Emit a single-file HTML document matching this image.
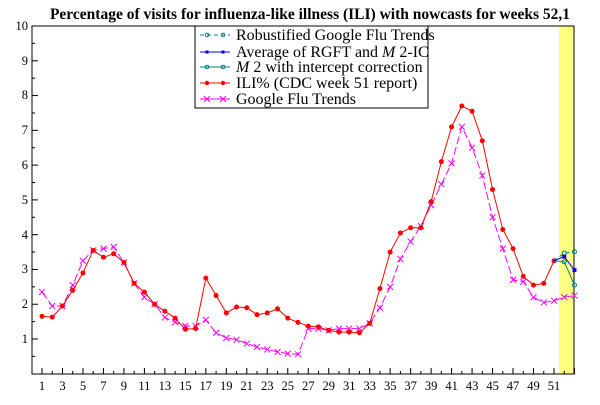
<!DOCTYPE html>
<html><head><meta charset="utf-8"><style>
html,body{margin:0;padding:0;background:#fff;}
svg, svg text{font-family:"Liberation Serif","Times New Roman","DejaVu Serif",serif;}
</style></head><body>
<svg id="s" width="600" height="400" viewBox="0 0 600 400" xmlns="http://www.w3.org/2000/svg" font-family="Liberation Serif, serif">
<rect x="559" y="26" width="15" height="348" fill="#ffff80"/>
<text x="310" y="19" font-size="15.5" font-weight="bold" text-anchor="middle" font-family="Liberation Serif, serif">Percentage of visits for influenza-like illness (ILI) with nowcasts for weeks 52,1</text>
<g id="ax" stroke="#000" fill="none"></g>
<g font-size="12.5" text-anchor="end" font-family="Liberation Serif, serif">
<text x="28" y="343">1</text><text x="28" y="308">2</text><text x="28" y="273">3</text><text x="28" y="239">4</text><text x="28" y="204">5</text><text x="28" y="169">6</text><text x="28" y="134">7</text><text x="28" y="99">8</text><text x="28" y="65">9</text><text x="28" y="30">10</text>
</g>
<g font-size="12.5" text-anchor="middle" font-family="Liberation Serif, serif">
<text x="42" y="390">1</text><text x="62.5" y="390">3</text><text x="83" y="390">5</text><text x="103.4" y="390">7</text><text x="123.9" y="390">9</text><text x="144.4" y="390">11</text><text x="164.9" y="390">13</text><text x="185.4" y="390">15</text><text x="205.8" y="390">17</text><text x="226.3" y="390">19</text><text x="246.8" y="390">21</text><text x="267.3" y="390">23</text><text x="287.8" y="390">25</text><text x="308.2" y="390">27</text><text x="328.7" y="390">29</text><text x="349.2" y="390">31</text><text x="369.7" y="390">33</text><text x="390.2" y="390">35</text><text x="410.6" y="390">37</text><text x="431.1" y="390">39</text><text x="451.6" y="390">41</text><text x="472.1" y="390">43</text><text x="492.6" y="390">45</text><text x="513" y="390">47</text><text x="533.5" y="390">49</text><text x="554" y="390">51</text>
</g>
<g id="data"></g>
<rect x="195" y="26" width="233" height="82" fill="#fff" stroke="#000"/>
<g font-size="16" font-family="Liberation Serif, serif">
<text x="236" y="40">Robustified Google Flu Trends</text>
<text x="236" y="57">Average of RGFT and <tspan font-style="italic">M</tspan> 2-IC</text>
<text x="236" y="72"><tspan font-style="italic">M</tspan> 2 with intercept correction</text>
<text x="236" y="88">ILI% (CDC week 51 report)</text>
<text x="236" y="104">Google Flu Trends</text>
</g>
<g id="leg"></g>
</svg>
<script>
var NS="http://www.w3.org/2000/svg";
function el(p,t,a){var e=document.createElementNS(NS,t);for(var k in a)e.setAttribute(k,a[k]);p.appendChild(e);return e;}
function X(w){return 42+10.24*(w-1);}
function Y(v){return 373.8-34.78*v;}
var ax=document.getElementById('ax');
el(ax,'rect',{x:32,y:26,width:542,height:348});
for(var v=0.5;v<10;v+=0.5){var l=(v%1==0)?6:3;el(ax,'line',{x1:32,y1:Y(v),x2:32+l,y2:Y(v)});}
for(var w=1;w<=53;w++){var l=(w%2==1)?6:3;el(ax,'line',{x1:X(w),y1:374,x2:X(w),y2:374-l});}
var ili=[1.65,1.63,1.95,2.4,2.9,3.55,3.35,3.45,3.2,2.6,2.35,2.0,1.8,1.6,1.28,1.3,2.75,2.25,1.75,1.92,1.9,1.7,1.75,1.87,1.6,1.48,1.37,1.35,1.25,1.2,1.2,1.18,1.45,2.45,3.5,4.05,4.2,4.2,4.95,6.1,7.1,7.7,7.55,6.7,5.3,4.15,3.6,2.8,2.55,2.6,3.25];
var gft=[2.35,1.95,1.95,2.55,3.25,3.55,3.6,3.65,3.2,2.6,2.2,2.0,1.62,1.48,1.38,1.37,1.55,1.18,1.03,0.98,0.87,0.77,0.7,0.63,0.58,0.56,1.3,1.3,1.25,1.3,1.3,1.3,1.45,1.9,2.5,3.3,3.8,4.25,4.85,5.45,6.05,7.1,6.5,5.7,4.5,3.6,2.7,2.65,2.2,2.05,2.1,2.2,2.25];
var d=document.getElementById('data');
function line(arr,start,col,dash){var p=arr.map(function(v,i){return X(start+i)+','+Y(v)}).join(' ');var a={points:p,fill:'none',stroke:col,'stroke-width':1};if(dash)a['stroke-dasharray']=dash;el(d,'polyline',a);}
function cross(g,x,y,c){el(g,'path',{d:'M'+(x-3)+' '+(y-3)+'L'+(x+3)+' '+(y+3)+'M'+(x-3)+' '+(y+3)+'L'+(x+3)+' '+(y-3),stroke:c,'stroke-width':1,fill:'none'});}
line(gft,1,'#ff00ff','8,3');
gft.forEach(function(v,i){cross(d,X(i+1),Y(v),'#ff00ff');});
line(ili,1,'#ff0000');
ili.forEach(function(v,i){el(d,'circle',{cx:X(i+1),cy:Y(v),r:2.5,fill:'#ff0000'});});
line([3.25,3.22,2.55],51,'#008080');
[[52,3.22],[53,2.55]].forEach(function(p){el(d,'circle',{cx:X(p[0]),cy:Y(p[1]),r:2,fill:'none',stroke:'#008080'});});
line([3.25,3.47,3.51],51,'#008080','4,3');
[[52,3.47],[53,3.51]].forEach(function(p){el(d,'circle',{cx:X(p[0]),cy:Y(p[1]),r:2,fill:'none',stroke:'#008080'});});
line([3.25,3.37,2.98],51,'#0000ff');
[[52,3.37],[53,2.98]].forEach(function(p){el(d,'rect',{x:X(p[0])-2,y:Y(p[1])-2,width:4,height:4,fill:'#0000ff'});});
var lg=document.getElementById('leg');
el(lg,'line',{x1:200,y1:35,x2:230,y2:35,stroke:'#008080','stroke-dasharray':'4,3'});
el(lg,'line',{x1:200,y1:52,x2:230,y2:52,stroke:'#0000ff'});
el(lg,'line',{x1:200,y1:67,x2:230,y2:67,stroke:'#008080'});
el(lg,'line',{x1:200,y1:83,x2:230,y2:83,stroke:'#ff0000'});
el(lg,'line',{x1:200,y1:99,x2:230,y2:99,stroke:'#ff00ff'});
[207,223].forEach(function(x){
el(lg,'circle',{cx:x,cy:35,r:1.8,fill:'none',stroke:'#008080'});
el(lg,'rect',{x:x-1.5,y:50.5,width:3,height:3,fill:'#0000ff'});
el(lg,'circle',{cx:x,cy:67,r:1.8,fill:'none',stroke:'#008080'});
el(lg,'circle',{cx:x,cy:83,r:2.2,fill:'#ff0000'});
cross(lg,x,99,'#ff00ff');});
</script>
</body></html>
